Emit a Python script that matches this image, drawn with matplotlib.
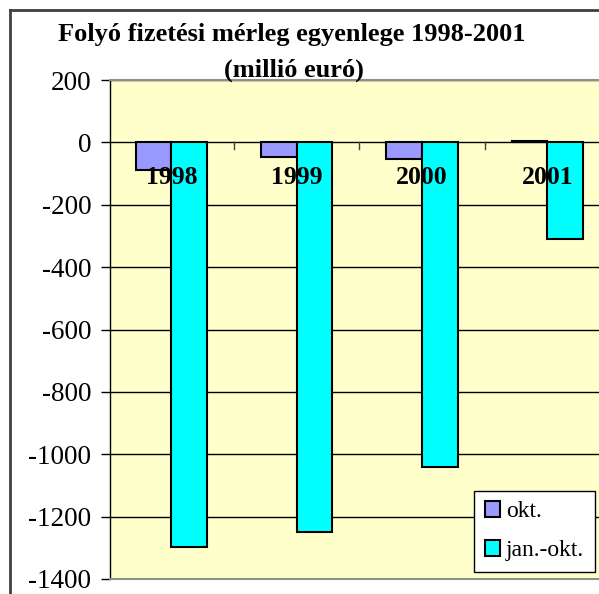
import matplotlib.pyplot as plt
from matplotlib.lines import Line2D
import numpy as np

plt.rcParams['font.family'] = ['Liberation Serif', 'DejaVu Serif']
plt.rcParams['axes.unicode_minus'] = False

years = ['1998', '1999', '2000', '2001']
okt = [-87, -48, -54, 6]
jan_okt = [-1297, -1249, -1041, -310]

fig = plt.figure(figsize=(5.99, 5.94), dpi=100)
W, H = 599, 594

# plot area (runs off the right edge, like the source)
ax = fig.add_axes([110 / W, 1 - 579 / H, 500 / W, 499 / H])
ax.set_facecolor('#FFFFCC')

x = np.arange(len(years))
w = 0.285
ax.bar(x - w / 2, okt, w, color='#9999FF', edgecolor='black', linewidth=1.5,
       label='okt.', zorder=3)
ax.bar(x + w / 2, jan_okt, w, color='#00FFFF', edgecolor='black', linewidth=1.5,
       label='jan.-okt.', zorder=3)

ax.set_ylim(-1400, 200)
ax.set_xlim(-0.49, 3.5)
ax.set_yticks(np.arange(-1400, 201, 200))
ax.yaxis.grid(True, color='black', linewidth=1)
ax.set_axisbelow(True)
ax.tick_params(axis='y', labelsize=19.5, length=6.5, width=1, direction='out', pad=7)

# category axis sits on zero, ticks between groups
ax.set_xticks([0.5, 1.5, 2.5])
ax.set_xticklabels([])
ax.tick_params(axis='x', length=0)
for xb in [0.5, 1.5, 2.5]:
    ax.plot([xb, xb], [0, -22], color='#404040', linewidth=1, zorder=2)
for i, yr in enumerate(years):
    ax.text(x[i], -112, yr, ha='center', va='center', fontsize=18.5,
            fontweight='bold', zorder=4)

for s in ['top', 'bottom']:
    ax.spines[s].set_color('#909090')
    ax.spines[s].set_linewidth(1.5)
ax.spines['right'].set_visible(False)
ax.spines['left'].set_linewidth(1)

leg = ax.legend(loc='lower left', bbox_to_anchor=((474 - 110) / 500, (579 - 572) / 499),
                fontsize=17, frameon=True, fancybox=False, shadow=False, framealpha=1,
                handlelength=0.65, handleheight=0.65, handletextpad=0.25,
                labelspacing=0.75, borderpad=0.45, borderaxespad=0)
leg.get_frame().set_edgecolor('black')
leg.get_frame().set_linewidth(1)

fig.text(292 / W, 1 - 35 / H, 'Folyó fizetési mérleg egyenlege 1998-2001',
         ha='center', va='center', fontsize=19, fontweight='bold')
fig.text(294 / W, 1 - 70 / H, '(millió euró)', ha='center', va='center',
         fontsize=19, fontweight='bold')

# outer chart frame
fig.add_artist(Line2D([10 / W, 10 / W], [0, 1 - 10 / H], color='#404040', linewidth=2,
                      transform=fig.transFigure))
fig.add_artist(Line2D([10 / W, 1], [1 - 10 / H, 1 - 10 / H], color='#404040', linewidth=2,
                      transform=fig.transFigure))

fig.savefig('out.png', dpi=100)
